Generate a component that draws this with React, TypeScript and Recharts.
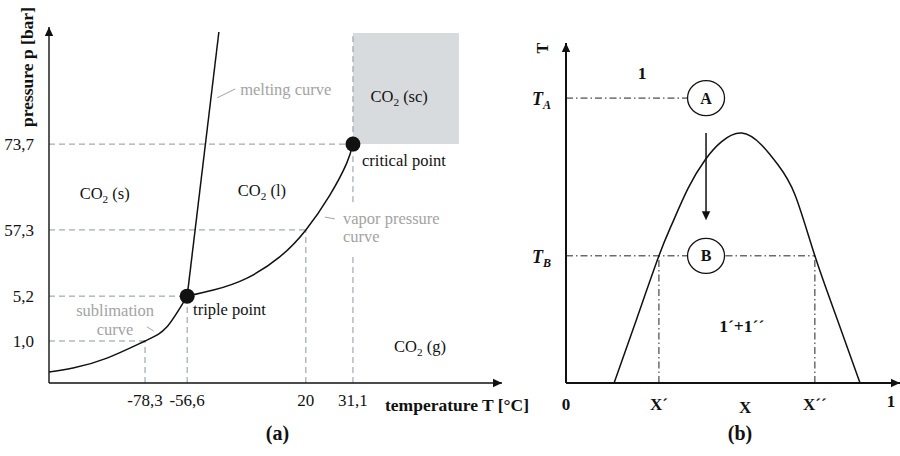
import React from 'react';
import {
  ComposedChart,
  Line,
  XAxis,
  YAxis,
  ReferenceLine,
  ReferenceDot,
  ReferenceArea,
} from 'recharts';

const FONT = '"Liberation Serif", "Times New Roman", Times, serif';

// ================= (a) CO2 phase diagram (schematic axis positions 0–100) =================
const tempTickLabels = ['-78,3', '-56,6', '20', '31,1'];
const tempTickPos = [21.2, 30.5, 56.7, 67.1];
const pressureTickLabels = ['1,0', '5,2', '57,3', '73,7'];
const pressureTickPos = [11.8, 24.4, 43.0, 67.1];

const sublimationCurve = [
  { x: 0, y: 3.1 },
  { x: 5.3, y: 4.2 },
  { x: 12.8, y: 7.0 },
  { x: 21.2, y: 11.8 },
  { x: 26.0, y: 15.7 },
  { x: 30.5, y: 24.4 },
];
const vaporPressureCurve = [
  { x: 30.5, y: 24.4 },
  { x: 36.3, y: 26.1 },
  { x: 43.6, y: 29.4 },
  { x: 51.0, y: 35.5 },
  { x: 56.7, y: 43.0 },
  { x: 62.0, y: 52.8 },
  { x: 65.7, y: 61.7 },
  { x: 67.1, y: 67.1 },
];
const meltingCurve = [
  { x: 30.5, y: 24.4 },
  { x: 37.5, y: 98.6 },
];
const triplePoint = { x: 30.5, y: 24.4 };
const criticalPoint = { x: 67.1, y: 67.1 };
const supercriticalRegion = { x1: 67.1, x2: 90.5, y1: 67.1, y2: 98.3 };
const criticalIsothermParts = [
  [0, 35.7],
  [50.8, 98.3],
];

// leader lines from curve names to curves
const leaderLines = [
  [{ x: 37.1, y: 80.1 }, { x: 41.1, y: 82.6 }],
  [{ x: 60.9, y: 46.6 }, { x: 63.1, y: 46.1 }],
  [{ x: 21.6, y: 15.8 }, { x: 23.1, y: 14.6 }],
];

type Note = { text: string; sub?: string; rest?: string; x: number; y: number; anchor: 'start' | 'middle' | 'end'; gray?: boolean };
const phaseNotes: Note[] = [
  { text: 'melting curve', x: 42.2, y: 80.9, anchor: 'start', gray: true },
  { text: 'CO', sub: '2', rest: ' (sc)', x: 77.3, y: 78.9, anchor: 'middle' },
  { text: 'critical point', x: 69.1, y: 61.0, anchor: 'start' },
  { text: 'CO', sub: '2', rest: ' (s)', x: 12.3, y: 51.7, anchor: 'middle' },
  { text: 'CO', sub: '2', rest: ' (l)', x: 47.0, y: 52.5, anchor: 'middle' },
  { text: 'vapor pressure', x: 64.9, y: 44.7, anchor: 'start', gray: true },
  { text: 'curve', x: 64.9, y: 39.6, anchor: 'start', gray: true },
  { text: 'sublimation', x: 14.6, y: 18.8, anchor: 'middle', gray: true },
  { text: 'curve', x: 14.6, y: 13.5, anchor: 'middle', gray: true },
  { text: 'triple point', x: 31.8, y: 19.1, anchor: 'start' },
  { text: 'CO', sub: '2', rest: ' (g)', x: 81.9, y: 8.7, anchor: 'middle' },
];

// ================= (b) T–X diagram (schematic axis positions 0–1) =================
const compositionTickLabels = ['0', 'X´', 'X', 'X´´', '1'];
const compositionTickPos = [0, 0.286, 0.551, 0.766, 1];
const temperatureTickSubs = ['B', 'A'];
const temperatureTickPos = [0.374, 0.838];

const twoPhaseDome = [
  { x: 0.148, y: 0 },
  { x: 0.217, y: 0.187 },
  { x: 0.286, y: 0.374 },
  { x: 0.325, y: 0.465 },
  { x: 0.376, y: 0.573 },
  { x: 0.428, y: 0.656 },
  { x: 0.479, y: 0.71 },
  { x: 0.541, y: 0.735 },
  { x: 0.602, y: 0.7 },
  { x: 0.653, y: 0.641 },
  { x: 0.705, y: 0.553 },
  { x: 0.766, y: 0.374 },
  { x: 0.835, y: 0.187 },
  { x: 0.905, y: 0 },
];
const stateA = { x: 0.431, y: 0.838 };
const stateB = { x: 0.431, y: 0.374 };
const coolingPath = { x: 0.431, yFrom: 0.735, yTo: 0.479 };
const bXmax = 1.028;
const tTitleAt = { x: 0, y: 0.985 };

const domeNotes: Note[] = [
  { text: '1', x: 0.234, y: 0.894, anchor: 'middle' },
  { text: '1´+1´´', x: 0.541, y: 0.15, anchor: 'middle' },
];

// ================= helpers =================
const arrowHead = (dir: 'up' | 'right' | 'down', color = '#111') => (p: any) => {
  const { cx, cy } = p;
  const L = 9;
  const W = 4.2;
  let pts = '';
  if (dir === 'up') pts = `${cx},${cy} ${cx - W},${cy + L} ${cx + W},${cy + L}`;
  if (dir === 'down') pts = `${cx},${cy} ${cx - W},${cy - L} ${cx + W},${cy - L}`;
  if (dir === 'right') pts = `${cx},${cy} ${cx - L},${cy - W} ${cx - L},${cy + W}`;
  return <polygon points={pts} fill={color} />;
};

const noteShape = (n: Note, size: number, bold = false) => (p: any) => (
  <text
    x={p.cx}
    y={p.cy}
    textAnchor={n.anchor}
    fontFamily={FONT}
    fontSize={size}
    fontWeight={bold ? 'bold' : 'normal'}
    fill={n.gray ? '#a3a3a3' : '#111'}
  >
    {n.text}
    {n.sub ? (
      <tspan fontSize={size * 0.68} dy={4}>
        {n.sub}
      </tspan>
    ) : null}
    {n.rest ? <tspan dy={n.sub ? -4 : 0}>{n.rest}</tspan> : null}
  </text>
);

const blackDot = (p: any) => <circle cx={p.cx} cy={p.cy} r={7.5} fill="#111" />;

const stateShape = (label: string) => (p: any) => (
  <g>
    <ellipse cx={p.cx} cy={p.cy} rx={18.5} ry={17.5} fill="#fff" stroke="#111" strokeWidth={1.3} />
    <text x={p.cx} y={p.cy + 5.5} textAnchor="middle" fontFamily={FONT} fontWeight="bold" fontSize={16} fill="#111">
      {label}
    </text>
  </g>
);

// rotated "T" axis title placed next to the top of the T axis
const tAxisTitle = (p: any) => (
  <g transform={`translate(${p.cx - 18}, ${p.cy})`}>
    <g transform="rotate(-90)">
      <text x={0} y={0} textAnchor="middle" fontFamily={FONT} fontWeight="bold" fontSize={16} fill="#111">
        T
      </text>
    </g>
  </g>
);

const renderTempLabel = (props: any) => {
  const vb = props.viewBox || { x: 49, y: 383, width: 453, height: 73 };
  return (
    <g>
      <text x={vb.x + vb.width - 117} y={vb.y + 28} fontFamily={FONT} fontWeight="bold" fontSize={17.5} fill="#111">
        temperature T [°C]
      </text>
      <text x={vb.x + vb.width / 2 + 2} y={vb.y + 57} textAnchor="middle" fontFamily={FONT} fontWeight="bold" fontSize={20} fill="#111">
        (a)
      </text>
    </g>
  );
};

const renderPressureLabel = (props: any) => {
  const vb = props.viewBox || { x: 0, y: 27, width: 49, height: 356 };
  const x = vb.x + 33;
  const y = vb.y + 40;
  return (
    <text x={x} y={y} transform={`rotate(-90, ${x}, ${y})`} textAnchor="middle" fontFamily={FONT} fontWeight="bold" fontSize={17.5} fill="#111">
      pressure p [bar]
    </text>
  );
};

const renderCompositionLabel = (props: any) => {
  const vb = props.viewBox || { x: 46, y: 383, width: 334, height: 73 };
  return (
    <text x={vb.x + 174} y={vb.y + 57} textAnchor="middle" fontFamily={FONT} fontWeight="bold" fontSize={20} fill="#111">
      (b)
    </text>
  );
};

const CompositionTick = (props: any) => {
  const { x, y, payload } = props;
  const i = compositionTickPos.indexOf(payload.value);
  const label = compositionTickLabels[i];
  const dy = label === 'X' ? 16 : label === '1' ? 10 : 13;
  return (
    <text x={x} y={y + dy} textAnchor="middle" fontFamily={FONT} fontWeight="bold" fontSize={17} fill="#111">
      {label}
    </text>
  );
};

const TemperatureTick = (props: any) => {
  const { x, y, payload } = props;
  const i = temperatureTickPos.indexOf(payload.value);
  return (
    <text x={x} y={y + 7} textAnchor="end" fontFamily={FONT} fontWeight="bold" fontStyle="italic" fontSize={18} fill="#111">
      T
      <tspan fontSize={12} dy={4}>
        {temperatureTickSubs[i]}
      </tspan>
    </text>
  );
};

const GUIDE = '#8a97a5';
const DASHDOT = '7 3 1.5 3';

export default function App() {
  return (
    <div style={{ position: 'absolute', left: 0, top: 0, width: 900, height: 456, background: '#fff', overflow: 'hidden' }}>
      {/* ---------- (a) ---------- */}
      <div style={{ position: 'absolute', left: 0, top: 0 }}>
        <ComposedChart width={560} height={456} margin={{ top: 27, right: 58, bottom: 0, left: 0 }}>
          <XAxis
            type="number"
            dataKey="x"
            domain={[0, 100]}
            allowDataOverflow
            ticks={tempTickPos}
            interval={0}
            tickFormatter={(v: number) => tempTickLabels[tempTickPos.indexOf(v)]}
            tickLine={false}
            tickSize={0}
            tickMargin={11}
            height={73}
            axisLine={{ stroke: '#111', strokeWidth: 1.4 }}
            tick={{ fill: '#111', fontSize: 17, fontFamily: FONT }}
            label={{ content: renderTempLabel }}
          />
          <YAxis
            type="number"
            dataKey="y"
            domain={[0, 100]}
            allowDataOverflow
            ticks={pressureTickPos}
            interval={0}
            tickFormatter={(v: number) => pressureTickLabels[pressureTickPos.indexOf(v)]}
            tickLine={false}
            tickSize={0}
            tickMargin={15}
            width={49}
            axisLine={{ stroke: '#111', strokeWidth: 1.4 }}
            tick={{ fill: '#111', fontSize: 17, fontFamily: FONT }}
            label={{ content: renderPressureLabel }}
          />
          <ReferenceArea
            x1={supercriticalRegion.x1}
            x2={supercriticalRegion.x2}
            y1={supercriticalRegion.y1}
            y2={supercriticalRegion.y2}
            fill="#d8dbdd"
            fillOpacity={1}
            stroke="none"
          />
          {pressureTickPos.map((p, i) => (
            <ReferenceLine
              key={`h${i}`}
              segment={[
                { x: 0, y: p },
                { x: tempTickPos[i], y: p },
              ]}
              stroke={GUIDE}
              strokeDasharray="6 4"
            />
          ))}
          {tempTickPos.slice(0, 3).map((t, i) => (
            <ReferenceLine
              key={`v${i}`}
              segment={[
                { x: t, y: 0 },
                { x: t, y: pressureTickPos[i] },
              ]}
              stroke={GUIDE}
              strokeDasharray="6 4"
            />
          ))}
          {criticalIsothermParts.map((part, i) => (
            <ReferenceLine
              key={`c${i}`}
              segment={[
                { x: tempTickPos[3], y: part[0] },
                { x: tempTickPos[3], y: part[1] },
              ]}
              stroke={GUIDE}
              strokeDasharray="6 4"
            />
          ))}
          {leaderLines.map((seg, i) => (
            <ReferenceLine key={`l${i}`} segment={seg} stroke="#a3a3a3" strokeWidth={1} />
          ))}
          <Line data={sublimationCurve} dataKey="y" type="natural" stroke="#111" strokeWidth={1.5} dot={false} isAnimationActive={false} />
          <Line data={vaporPressureCurve} dataKey="y" type="natural" stroke="#111" strokeWidth={1.5} dot={false} isAnimationActive={false} />
          <Line data={meltingCurve} dataKey="y" type="linear" stroke="#111" strokeWidth={1.5} dot={false} isAnimationActive={false} />
          <ReferenceDot x={triplePoint.x} y={triplePoint.y} r={7.5} shape={blackDot} />
          <ReferenceDot x={criticalPoint.x} y={criticalPoint.y} r={7.5} shape={blackDot} />
          <ReferenceDot x={0} y={100} r={1} shape={arrowHead('up')} />
          <ReferenceDot x={100} y={0} r={1} shape={arrowHead('right')} />
          {phaseNotes.map((n, i) => (
            <ReferenceDot key={`n${i}`} x={n.x} y={n.y} r={1} shape={noteShape(n, 16.5)} />
          ))}
        </ComposedChart>
      </div>

      {/* ---------- (b) ---------- */}
      <div style={{ position: 'absolute', left: 520, top: 0 }}>
        <ComposedChart width={380} height={456} margin={{ top: 43, right: 0, bottom: 0, left: 0 }}>
          <XAxis
            type="number"
            dataKey="x"
            domain={[0, bXmax]}
            allowDataOverflow
            ticks={compositionTickPos}
            interval={0}
            tickLine={false}
            tickSize={0}
            tickMargin={14}
            height={73}
            axisLine={{ stroke: '#111', strokeWidth: 2 }}
            tick={<CompositionTick />}
            label={{ content: renderCompositionLabel }}
          />
          <YAxis
            type="number"
            dataKey="y"
            domain={[0, 1]}
            allowDataOverflow
            ticks={temperatureTickPos}
            interval={0}
            tickLine={false}
            tickSize={0}
            tickMargin={15}
            width={46}
            axisLine={{ stroke: '#111', strokeWidth: 2 }}
            tick={<TemperatureTick />}
          />
          <ReferenceLine segment={[{ x: 0, y: stateA.y }, { x: stateA.x, y: stateA.y }]} stroke="#222" strokeDasharray={DASHDOT} />
          <ReferenceLine segment={[{ x: 0, y: stateB.y }, { x: compositionTickPos[3], y: stateB.y }]} stroke="#222" strokeDasharray={DASHDOT} />
          <ReferenceLine segment={[{ x: compositionTickPos[1], y: 0 }, { x: compositionTickPos[1], y: stateB.y }]} stroke="#222" strokeDasharray={DASHDOT} />
          <ReferenceLine segment={[{ x: compositionTickPos[3], y: 0 }, { x: compositionTickPos[3], y: stateB.y }]} stroke="#222" strokeDasharray={DASHDOT} />
          <ReferenceLine
            segment={[
              { x: coolingPath.x, y: coolingPath.yFrom },
              { x: coolingPath.x, y: coolingPath.yTo + 0.02 },
            ]}
            stroke="#111"
            strokeWidth={1.5}
          />
          <Line data={twoPhaseDome} dataKey="y" type="natural" stroke="#111" strokeWidth={1.5} dot={false} isAnimationActive={false} />
          <ReferenceDot x={coolingPath.x} y={coolingPath.yTo} r={1} shape={arrowHead('down')} />
          <ReferenceDot x={stateA.x} y={stateA.y} r={18} shape={stateShape('A')} />
          <ReferenceDot x={stateB.x} y={stateB.y} r={18} shape={stateShape('B')} />
          <ReferenceDot x={0} y={1} r={1} shape={arrowHead('up')} />
          <ReferenceDot x={tTitleAt.x} y={tTitleAt.y} r={1} shape={tAxisTitle} />
          <ReferenceDot x={bXmax} y={0} r={1} shape={arrowHead('right')} />
          {domeNotes.map((n, i) => (
            <ReferenceDot key={`d${i}`} x={n.x} y={n.y} r={1} shape={noteShape(n, 17.5, true)} />
          ))}
        </ComposedChart>
      </div>
    </div>
  );
}
